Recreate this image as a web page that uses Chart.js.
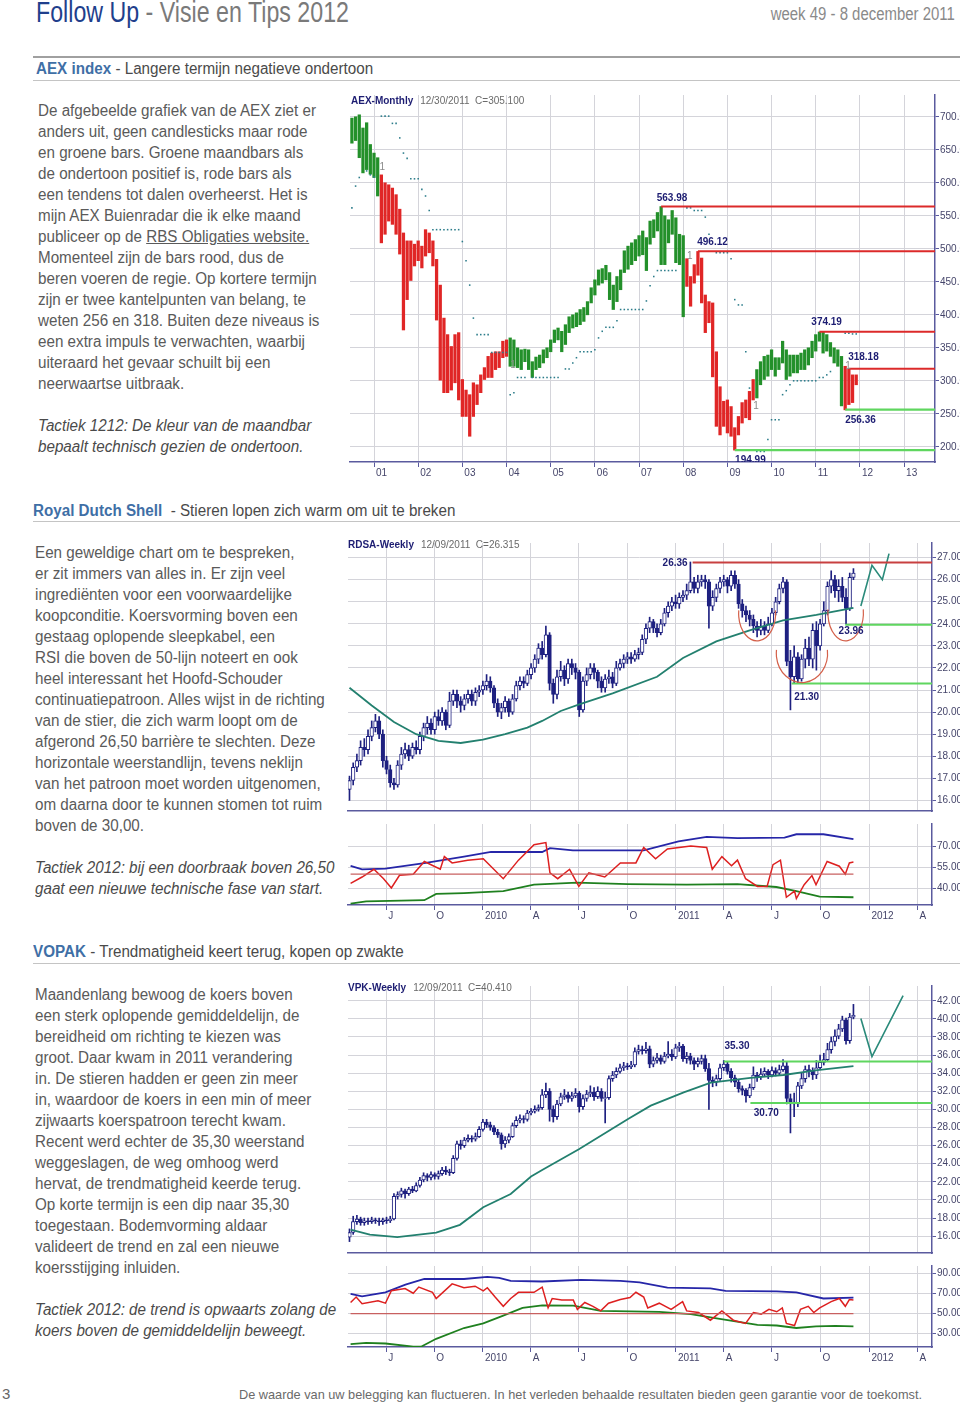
<!DOCTYPE html>
<html>
<head>
<meta charset="utf-8">
<script src="https://cdn.jsdelivr.net/npm/chart.js@4.4.0/dist/chart.umd.min.js"></script>
<style>
  body { margin: 0; width: 960px; height: 1404px; position: relative; background: #fff; overflow: hidden;
         font-family: "Liberation Sans", Arial, sans-serif; color: #5a5a5a; }
  .abs { position: absolute; white-space: nowrap; transform-origin: 0 0; }
  .sx { transform: scaleX(0.95); }
  .txt { font-size: 16px; line-height: 21px; }
  .tac { font-size: 16px; line-height: 21px; font-style: italic; color: #4a4a4a; }
  .kop { font-size: 16px; color: #4a4a4a; }
  .kop b { color: #3f6fa6; }
  .rule { position: absolute; left: 33px; width: 927px; height: 1px; background: #c4c4c4; }
  .ct { font-family: "Liberation Sans", Arial, sans-serif; font-size: 10px; color: #6a6a6a; }
  .ct b { color: #1d1d72; margin-right: 7px; }
  canvas { position: absolute; }
</style>
</head>
<body>

<div class="abs" style="left:36px;top:-4px;font-size:29px;color:#7a7a7a;transform:scaleX(0.8)"><span style="color:#1f3f8c">Follow Up</span> - Visie en Tips 2012</div>
<div class="abs" style="right:5px;top:4px;font-size:18px;color:#8a8a8a;transform-origin:100% 0;transform:scaleX(0.83)">week 49 - 8 december 2011</div>

<div class="rule" style="top:56px;height:2px;background:#a0a0a0"></div>
<div class="abs kop sx" style="left:36px;top:60px"><b>AEX index</b> - Langere termijn negatieve ondertoon</div>
<div class="rule" style="top:80px"></div>

<div class="abs txt sx" style="left:38px;top:100px">
De afgebeelde grafiek van de AEX ziet er<br>
anders uit, geen candlesticks maar rode<br>
en groene bars. Groene maandbars als<br>
de ondertoon positief is, rode bars als<br>
een tendens tot dalen overheerst. Het is<br>
mijn AEX Buienradar die ik elke maand<br>
publiceer op de <u>RBS Obligaties website.</u><br>
Momenteel zijn de bars rood, dus de<br>
beren voeren de regie. Op kortere termijn<br>
zijn er twee kantelpunten van belang, te<br>
weten 256 en 318. Buiten deze niveaus is<br>
een extra impuls te verwachten, waarbij<br>
uiteraard het gevaar schuilt bij een<br>
neerwaartse uitbraak.
</div>
<div class="abs tac sx" style="left:38px;top:415px">Tactiek 1212: De kleur van de maandbar<br>bepaalt technisch gezien de ondertoon.</div>

<div class="abs kop sx" style="left:33px;top:502px"><b>Royal Dutch Shell</b>&nbsp; - Stieren lopen zich warm om uit te breken</div>
<div class="rule" style="top:521px"></div>

<div class="abs txt sx" style="left:35px;top:542px">
Een geweldige chart om te bespreken,<br>
er zit immers van alles in. Er zijn veel<br>
ingrediënten voor een voorwaardelijke<br>
koopconditie. Koersvorming boven een<br>
gestaag oplopende sleepkabel, een<br>
RSI die boven de 50-lijn noteert en ook<br>
heel interessant het Hoofd-Schouder<br>
continuatiepatroon. Alles wijst in de richting<br>
van de stier, die zich warm loopt om de<br>
afgerond 26,50 barrière te slechten. Deze<br>
horizontale weerstandlijn, tevens neklijn<br>
van het patroon moet worden uitgenomen,<br>
om daarna door te kunnen stomen tot ruim<br>
boven de 30,00.
</div>
<div class="abs tac sx" style="left:35px;top:857px">Tactiek 2012: bij een doorbraak boven 26,50<br>gaat een nieuwe technische fase van start.</div>

<div class="abs kop sx" style="left:33px;top:943px"><b>VOPAK</b> - Trendmatigheid keert terug, kopen op zwakte</div>
<div class="rule" style="top:963px"></div>

<div class="abs txt sx" style="left:35px;top:984px">
Maandenlang bewoog de koers boven<br>
een sterk oplopende gemiddeldelijn, de<br>
bereidheid om richting te kiezen was<br>
groot. Daar kwam in 2011 verandering<br>
in. De stieren hadden er geen zin meer<br>
in, waardoor de koers in een min of meer<br>
zijwaarts koerspatroon terecht kwam.<br>
Recent werd echter de 35,30 weerstand<br>
weggeslagen, de weg omhoog werd<br>
hervat, de trendmatigheid keerde terug.<br>
Op korte termijn is een dip naar 35,30<br>
toegestaan. Bodemvorming aldaar<br>
valideert de trend en zal een nieuwe<br>
koersstijging inluiden.
</div>
<div class="abs tac sx" style="left:35px;top:1299px">Tactiek 2012: de trend is opwaarts zolang de<br>koers boven de gemiddeldelijn beweegt.</div>

<div class="abs" style="left:2px;top:1385px;font-size:15px;color:#666">3</div>
<div class="abs" style="left:239px;top:1387px;font-size:13.5px;color:#6a6a6a;transform:scaleX(0.944)">De waarde van uw belegging kan fluctueren. In het verleden behaalde resultaten bieden geen garantie voor de toekomst.</div>

<canvas id="aex" width="615" height="390" style="left:345px;top:88px"></canvas>
<canvas id="shell" width="615" height="282" style="left:345px;top:536px"></canvas>
<canvas id="shellInd" width="615" height="103" style="left:345px;top:817px"></canvas>
<canvas id="vopak" width="615" height="281" style="left:345px;top:979px"></canvas>
<canvas id="vopakInd" width="615" height="103" style="left:345px;top:1259px"></canvas>

<div class="abs ct" style="left:351px;top:95px"><b>AEX-Monthly</b>12/30/2011&nbsp; C=305.100</div>
<div class="abs ct" style="left:348px;top:539px"><b>RDSA-Weekly</b>12/09/2011&nbsp; C=26.315</div>
<div class="abs ct" style="left:348px;top:982px"><b>VPK-Weekly</b>12/09/2011&nbsp; C=40.410</div>

<script>
// ---------- AEX maandbars (maand 0 = jan 2001, eerste bar = jul 2000) ----------
const aexFirstMonth = -6;
const aexHigh = [
  698, 700, 703, 683, 691, 658, 645, 638, 612, 600,
  597, 592, 582, 560, 524, 512, 512, 507, 512, 504,
  529, 524, 512, 484, 445, 395, 370, 352, 370, 373,
  302, 286, 279, 297, 294, 309, 320, 337, 342, 344,
  344, 360, 362, 365, 362, 350, 347, 348, 347, 329,
  336, 339, 347, 350, 362, 377, 380, 375, 385, 397,
  400, 403, 408, 411, 420, 441, 453, 468, 470, 475,
  464, 445, 458, 468, 497, 504, 509, 514, 520, 527,
  517, 542, 544, 555, 564, 550, 544, 558, 547, 522,
  520, 485, 458, 476, 496, 486, 430, 420, 418, 344,
  291, 269, 271, 261, 229, 246, 267, 271, 284, 302,
  317, 329, 337, 339, 347, 335, 335, 360, 347, 339,
  339, 339, 342, 347, 350, 360, 370, 374, 375, 370,
  358, 350, 347, 337, 322, 318, 309, 309
];
const aexLow = [
  660, 664, 638, 615, 620, 613, 608, 580, 509, 522,
  542, 537, 522, 492, 377, 423, 452, 474, 482, 471,
  489, 494, 474, 392, 301, 282, 282, 286, 297, 271,
  246, 246, 216, 246, 264, 282, 302, 305, 305, 317,
  320, 335, 337, 322, 322, 320, 317, 329, 317, 305,
  317, 320, 327, 335, 344, 358, 362, 344, 355, 373,
  380, 382, 385, 390, 400, 418, 430, 445, 448, 453,
  423, 408, 420, 438, 464, 469, 476, 482, 489, 491,
  467, 507, 517, 527, 476, 476, 509, 522, 479, 476,
  397, 443, 413, 448, 460, 418, 373, 388, 306, 231,
  218, 231, 221, 216, 195, 218, 236, 244, 241, 271,
  274, 294, 302, 307, 317, 307, 317, 327, 302, 307,
  312, 312, 317, 317, 324, 335, 345, 360, 342, 345,
  337, 327, 322, 262, 256, 264, 267, 294
];
// g = groene maandbar, r = rode maandbar
const aexTrend = ('ggggggggrr' + 'rrrrrrrrrr' + 'rrrrrrrrrr' + 'rrrrrrrrrr' + 'rrrggggggg' +
  'gggggggggg' + 'gggggggggg' + 'gggggggggg' + 'gggggggggg' + 'grrrrrrrrr' +
  'rrrrrrrrrr' + 'gggggggggg' + 'gggggggggg' + 'ggggrrrr').split('');
// stop-stippen [maand, niveau]
const aexStops = [
  [-6,562],[-5,595],[-4,608],[-2,618],[-1,612],[0,609],
  [2,701],[3,701],[4,701],[5,690],[6,690],[7,668],[8,645],[9,637],[10,606],[11,606],[12,606],
  [13,590],[14,580],[15,558],[16,529],[17,529],[18,529],[19,529],[20,529],[21,529],[22,529],[23,529],
  [24,511],[25,482],[26,445],[27,395],[28,370],[29,370],[30,370],[31,370],
  [32,343],[33,343],[34,343],[35,343],[36,343],
  [37,279],[38,282],[39,305],[40,305],[41,305],[43,305],[44,305],[45,305],[46,305],[47,305],[48,305],
  [49,305],[50,305],[52,318],[53,318],[54,327],[55,335],[56,344],[57,344],[58,344],[59,344],[60,347],
  [61,365],[62,375],[63,381],[64,381],[65,381],[66,391],[67,408],[68,408],[69,408],[70,408],[71,408],
  [72,408],[73,408],[74,421],[75,444],[76,458],[77,467],[78,467],[79,467],[80,467],[81,467],[82,467],
  [85,562],[86,562],[87,558],[88,558],[89,558],[90,548],[91,522],[93,494],[94,494],[95,494],[96,494],
  [97,485],[98,423],[99,415],[100,415],[101,344],[102,289],
  [104,193],[105,193],[106,193],[107,211],[108,241],[109,241],[110,241],[111,279],[112,285],[113,294],
  [114,300],[115,300],[116,300],[117,300],[118,300],[119,300],[120,300],[121,305],[122,305],[123,309],
  [124,314],[128,372],[129,372],[130,371],[131,371]
];
const aexRedLevels = [563.98, 496.12, 374.19, 318.18];
const aexRedFrom = [78, 88, 121, 129];
const aexGreenLevels = [256.36, 194.99];
const aexGreenFrom = [128, 98];
const aexTurns = [[1.5, 623], [37, 324], [85, 488], [103, 262], [128, 322]];
const aexYearTicks = [0, 12, 24, 36, 48, 60, 72, 84, 96, 108, 120, 132, 144];
const aexYearLabels = ['01','02','03','04','05','06','07','08','09','10','11','12','13'];
const aexPriceTicks = [200, 250, 300, 350, 400, 450, 500, 550, 600, 650, 700];

// ---------- weekdata (week 0 = 1 jan 2010, eerste candle = week -36) ----------
const weekStart = -36;
const quarterWeeks = [-26.1, -13.1, 0, 12.9, 25.9, 39.0, 52.1, 65.0, 78.0, 91.1, 104.3, 117.3];
const quarterLabels = ['J', 'O', '2010', 'A', 'J', 'O', '2011', 'A', 'J', 'O', '2012', 'A'];

const shellOpen = [
  16.5,16.9,17.5,17.8,18.4,18.3,18.9,19.3,19.6,19.0,
  17.8,17.4,16.8,16.7,17.6,18.1,18.3,18.0,18.4,18.3,
  18.9,19.3,19.5,19.2,19.8,19.6,20.0,19.4,20.5,20.8,
  20.5,20.3,20.6,20.8,20.5,20.9,21.0,21.2,21.4,21.1,
  20.4,20.0,20.2,20.5,20.0,20.6,21.2,21.4,21.3,21.7,
  22.0,22.4,22.9,22.6,23.5,21.3,20.8,21.6,21.9,21.5,
  22.2,22.0,21.8,20.1,21.4,21.7,22.0,21.8,21.4,21.1,
  21.5,21.6,21.3,22.0,22.2,22.4,22.5,22.4,22.6,22.7,
  23.3,23.8,24.1,23.8,23.6,24.0,24.5,24.8,25.0,24.9,
  25.2,25.3,25.5,25.9,25.6,25.9,26.0,25.9,24.8,25.2,
  25.6,25.9,26.0,25.7,26.2,25.8,24.9,24.6,24.4,24.2,
  23.9,23.7,23.9,23.7,24.0,24.5,25.0,25.6,25.9,22.3,
  21.6,22.5,21.5,22.4,22.9,22.4,23.7,23.0,24.0,24.6,
  25.7,26.0,25.5,25.7,25.2,24.7,26.1
];
const shellHigh = [
  17.1,17.7,18.1,18.7,18.8,19.2,19.6,19.9,19.8,19.2,
  18.0,17.6,17.0,17.8,18.4,18.6,18.5,18.6,18.7,19.1,
  19.5,19.8,19.7,20.0,20.1,20.2,20.1,20.9,21.0,21.0,
  20.7,20.8,21.0,21.0,21.1,21.2,21.4,21.7,21.6,21.2,
  20.6,20.4,20.7,20.6,20.8,21.4,21.6,21.6,21.9,22.2,
  22.6,23.1,23.2,23.9,23.6,21.5,21.9,22.3,22.1,22.4,
  22.4,22.2,21.9,21.6,22.0,22.2,22.2,21.9,21.6,21.7,
  21.9,21.8,22.3,22.4,22.6,22.7,22.7,22.8,22.9,23.5,
  24.0,24.3,24.2,24.0,24.2,24.7,25.0,25.2,25.3,25.4,
  25.5,25.8,26.8,26.1,26.2,26.2,26.2,26.0,25.5,25.8,
  26.1,26.2,26.1,26.4,26.4,26.0,25.1,24.8,24.6,24.4,
  24.1,24.2,24.1,24.3,24.7,25.2,25.8,26.1,26.0,22.8,
  23.0,22.7,22.6,23.3,23.4,24.0,24.1,24.2,25.0,25.9,
  26.4,26.2,26.0,26.1,25.6,26.3,26.5
];
const shellLow = [
  16.0,16.7,17.3,17.6,18.0,18.1,18.7,19.1,18.8,17.5,
  17.2,16.6,16.5,16.6,17.4,17.9,17.8,17.9,18.1,18.1,
  18.7,19.0,19.0,19.0,19.4,19.4,19.2,19.3,20.3,20.2,
  20.0,20.1,20.4,20.3,20.3,20.7,20.8,21.0,20.9,20.2,
  19.8,19.7,20.0,19.8,19.9,20.5,21.0,21.1,21.2,21.5,
  21.8,22.2,22.4,22.5,21.0,20.4,20.6,21.4,21.2,21.3,
  21.7,21.5,19.8,20.0,21.2,21.5,21.5,21.1,20.9,20.9,
  21.3,21.1,21.2,21.9,22.0,22.2,22.2,22.3,22.4,22.6,
  23.1,23.6,23.6,23.4,23.5,23.9,24.3,24.6,24.7,24.7,
  25.0,25.1,25.4,25.4,25.4,25.7,25.6,23.8,24.6,25.0,
  25.4,25.7,25.4,25.5,25.6,24.7,24.3,24.1,23.9,23.6,
  23.4,23.5,23.5,23.6,23.9,24.4,24.9,25.4,22.1,20.1,
  21.3,21.3,21.4,22.0,22.1,22.0,21.9,22.8,23.9,24.4,
  25.4,25.2,25.0,25.0,24.0,24.6,26.0
];
const shellClose = [
  16.9,17.5,17.8,18.4,18.3,18.9,19.3,19.6,19.0,17.8,
  17.4,16.8,16.7,17.6,18.1,18.3,18.0,18.4,18.3,18.9,
  19.3,19.5,19.2,19.8,19.6,20.0,19.4,20.5,20.8,20.5,
  20.3,20.6,20.8,20.5,20.9,21.0,21.2,21.4,21.1,20.4,
  20.0,20.2,20.5,20.0,20.6,21.2,21.4,21.3,21.7,22.0,
  22.4,22.9,22.6,23.5,21.3,20.8,21.6,21.9,21.5,22.2,
  22.0,21.8,20.1,21.4,21.7,22.0,21.8,21.4,21.1,21.5,
  21.6,21.3,22.0,22.2,22.4,22.5,22.4,22.6,22.7,23.3,
  23.8,24.1,23.8,23.6,24.0,24.5,24.8,25.0,24.9,25.2,
  25.3,25.5,25.9,25.6,25.9,26.0,25.9,24.8,25.2,25.6,
  25.9,26.0,25.7,26.2,25.8,24.9,24.6,24.4,24.2,23.9,
  23.7,23.9,23.7,24.0,24.5,25.0,25.6,25.9,22.3,21.6,
  22.5,21.5,22.4,22.9,22.4,23.7,23.0,24.0,24.6,25.7,
  26.0,25.5,25.7,25.2,24.7,26.1,26.3
];
// gemiddelde (sleepkabel) [week, koers]
const shellAvg = [[-36,21.1],[-30,20.3],[-24,19.55],[-18,19.0],[-12,18.7],[-6,18.6],[0,18.75],[6,19.0],
  [12,19.3],[16,19.6],[21,20.05],[26,20.35],[35,20.85],[47,21.6],[54,22.45],[63,23.2],[72,23.7],
  [81,24.15],[90,24.4],[100,24.72]];
const shellProjection = [[102.0,24.81],[105.0,26.65],[107.8,26.0],[109.6,27.18]];
const shellNeck = 26.36;         // label
const shellNeckDrawn = 26.78;    // hoogte van de getekende lijn
const shellSupports = [23.96, 21.30];
const shellSupportFrom = [97.8, 83.3];
const shellPriceTicks = [16, 17, 18, 19, 20, 21, 22, 23, 24, 25, 26, 27];

const shellRsi = [[-35.7,43.5],[-32.6,48],[-29.4,53.5],[-26.8,46.8],[-24.7,40.2],[-22.5,49.2],[-18.8,50],
  [-15.8,59],[-11.5,53.5],[-10.4,62.5],[-8.3,58],[-4.1,60],[0.1,61],[5.5,46.8],[9.6,60],[13.8,71],
  [17,72.5],[18.1,51],[20.2,46.8],[23.4,53.5],[25.9,41.3],[28.6,51],[32.9,48],[37.1,58],[41.3,58],
  [43.4,69],[46.6,61],[49.8,68],[56.1,70],[60.4,69],[61.9,53.5],[64.5,62.5],[67.1,56],[68.7,60],
  [70.9,46.8],[74.1,41.3],[76.7,41.3],[78.3,56.8],[80.3,60],[81.9,33.6],[84.1,38],[84.6,32.7],
  [86.7,42.5],[88.8,49],[89.9,42.5],[92.9,59],[96.2,55.7],[97.8,50],[98.9,58],[100,58.6]];
const shellUpper = [[-35.7,56],[-32.6,53.5],[-26.3,54],[-15.8,57.9],[-5.1,62.5],[2.2,65.8],[16,65.8],
  [18.1,68.5],[24.3,67],[43.4,67],[52.8,73.3],[60.4,76.6],[68.7,75.7],[81.4,76],[84.6,78.4],[91.9,78.4],[100,75]];
const shellLower = [[-35.7,29],[-31.5,30.7],[-15.8,31.5],[-12.6,36],[-5.1,36.6],[5.5,38],[13.8,42.6],
  [25.4,44],[39.1,43],[55,42.6],[68.7,42.9],[79.2,40.9],[84.6,38],[90.9,34],[100,33.6]];
const shellIndTicks = [40, 55, 70];

const vopakOpen = [
  15.9,16.4,17.6,17.9,17.5,17.7,17.6,17.8,17.7,17.6,
  17.8,17.7,17.9,20.4,20.6,21.0,20.7,21.2,21.0,21.6,
  22.2,22.7,22.5,22.8,22.6,22.9,23.3,23.1,23.0,24.6,
  26.2,26.0,26.6,26.8,26.7,27.0,27.8,28.6,28.3,28.0,
  27.5,27.2,26.2,26.6,27.0,28.2,28.8,29.0,28.9,29.6,
  29.8,30.0,30.2,31.6,32.0,30.0,29.2,30.6,31.4,31.6,
  31.2,31.5,31.8,30.3,31.2,31.7,31.9,31.4,32.0,31.2,
  31.3,33.4,33.8,34.2,34.6,34.8,34.7,34.9,36.4,36.6,
  36.5,36.7,35.0,35.4,35.7,35.3,35.9,36.1,35.8,36.8,
  37.0,35.6,35.9,35.4,35.0,35.3,35.6,34.5,33.2,33.0,
  33.4,34.6,35.0,34.2,33.5,33.0,32.3,32.1,31.5,32.4,
  33.8,33.6,33.9,34.2,33.8,34.3,34.0,34.4,34.8,31.2,
  30.8,30.6,32.6,33.4,34.4,34.2,33.8,34.6,35.2,35.5,
  36.6,37.5,38.1,38.9,39.9,37.6,40.2
];
const vopakHigh = [
  16.8,18.2,18.3,18.1,18.0,18.0,18.1,18.0,18.0,18.0,
  18.1,18.2,20.7,20.9,21.3,21.2,21.4,21.5,21.9,22.5,
  23.0,22.9,23.1,23.0,23.2,23.6,23.7,23.4,24.9,26.5,
  26.6,26.9,27.2,27.1,27.4,28.1,28.9,28.9,28.6,28.2,
  27.8,27.4,27.0,27.3,28.5,29.2,29.4,29.3,29.9,30.1,
  30.4,30.5,32.2,32.9,32.3,30.4,31.0,31.8,32.2,31.9,
  31.9,32.3,32.0,31.6,32.1,32.6,32.4,32.5,32.3,31.9,
  33.7,34.2,34.6,35.0,35.2,35.1,35.3,36.8,37.1,37.0,
  37.4,37.0,35.8,36.2,36.0,36.3,37.5,36.6,37.2,37.4,
  37.2,36.3,36.2,35.7,35.7,36.0,36.0,35.1,33.6,33.8,
  35.0,35.4,35.2,34.5,33.8,33.3,32.6,32.3,32.8,34.7,
  34.1,34.5,34.6,34.4,34.7,34.6,34.9,35.5,35.2,31.7,
  31.8,33.0,34.0,34.8,34.9,34.6,35.4,36.0,36.2,37.3,
  38.0,38.8,39.4,40.3,40.1,40.6,41.6
];
const vopakLow = [
  15.4,16.2,17.3,17.2,17.2,17.3,17.4,17.4,17.2,17.3,
  17.4,17.5,17.8,20.1,20.3,20.2,20.5,20.8,20.9,21.4,
  22.0,22.1,22.2,22.3,22.3,22.7,22.8,22.7,22.9,24.4,
  25.6,25.8,26.4,26.4,26.5,26.9,27.6,28.0,27.7,27.2,
  26.9,25.6,25.8,26.3,26.9,28.0,28.5,28.5,28.7,29.4,
  29.6,29.8,30.0,31.3,28.7,28.6,28.9,30.4,31.1,30.8,
  30.9,31.3,29.7,30.0,30.9,31.4,31.0,31.2,30.9,28.5,
  31.1,33.1,33.5,34.0,34.3,34.4,34.5,34.7,36.1,36.1,
  36.2,34.6,34.7,35.1,35.0,35.1,35.7,35.4,35.6,36.4,
  35.3,35.1,35.0,34.4,34.7,35.0,34.2,30.0,32.5,32.6,
  33.2,34.3,33.9,33.0,32.5,31.9,31.6,30.8,31.3,32.2,
  33.1,33.3,33.7,33.4,33.6,33.7,33.8,34.2,30.6,27.4,
  29.2,30.3,32.3,33.0,33.6,33.3,33.4,34.4,34.9,35.3,
  36.2,37.0,37.8,38.6,37.2,37.3,40.0
];
const vopakClose = [
  16.4,17.6,17.9,17.5,17.7,17.6,17.8,17.7,17.6,17.8,
  17.7,17.9,20.4,20.6,21.0,20.7,21.2,21.0,21.6,22.2,
  22.7,22.5,22.8,22.6,22.9,23.3,23.1,23.0,24.6,26.2,
  26.0,26.6,26.8,26.7,27.0,27.8,28.6,28.3,28.0,27.5,
  27.2,26.2,26.6,27.0,28.2,28.8,29.0,28.9,29.6,29.8,
  30.0,30.2,31.6,32.0,30.0,29.2,30.6,31.4,31.6,31.2,
  31.5,31.8,30.3,31.2,31.7,31.9,31.4,32.0,31.2,31.3,
  33.4,33.8,34.2,34.6,34.8,34.7,34.9,36.4,36.6,36.5,
  36.7,35.0,35.4,35.7,35.3,35.9,36.1,35.8,36.8,37.0,
  35.6,35.9,35.4,35.0,35.3,35.6,34.5,33.2,33.0,33.4,
  34.6,35.0,34.2,33.5,33.0,32.3,32.1,31.5,32.4,33.8,
  33.6,33.9,34.2,33.8,34.3,34.0,34.4,34.8,31.2,30.8,
  30.6,32.6,33.4,34.4,34.2,33.8,34.6,35.2,35.5,36.6,
  37.5,38.1,38.9,39.9,37.6,40.2,40.4
];
const vopakAvg = [[-35.7,16.71],[-30.5,16.18],[-23.1,15.89],[-12.6,16.39],[-6.2,17.25],[0.1,19.2],
  [7.5,20.66],[13,22.59],[16,23.3],[25.9,25.6],[39.4,29.0],[45.3,30.42],[54.2,31.88],[61.5,32.95],
  [72.2,33.48],[81.1,33.8],[90.3,34.34],[100,34.77]];
const vopakProjection = [[102.0,40.03],[105.0,35.84],[113.4,42.57]];
const vopakLevels = [35.30, 30.70];
const vopakLevelFrom = [65.0, 72.2];
const vopakPriceTicks = [16, 18, 20, 22, 24, 26, 28, 30, 32, 34, 36, 38, 40, 42];

const vopakRsi = [[-35.7,61.2],[-34.2,66.7],[-32.6,60],[-28.3,63],[-26.3,60.5],[-24.7,72.9],[-21,75.1],
  [-18.8,70.5],[-17.3,76.6],[-13.6,71.4],[-12.6,65.2],[-8.3,79.8],[-5.1,76],[-2.1,77.5],[0.1,72.9],
  [1.2,76],[3.3,66.7],[5.5,57.4],[7.5,65.2],[9.6,71.4],[13.8,71.4],[16,76.6],[17.6,55.8],[18.7,65.2],
  [21.3,63.6],[24.4,63.6],[25.5,54.3],[27.5,61.2],[29.7,57.4],[31.8,52.8],[33.9,60.5],[37.1,64.2],
  [39.7,66.1],[41.3,71.4],[43.4,66.7],[44.5,55.8],[47.6,60.5],[50.8,54.3],[53.9,62.1],[55,52.8],
  [58.2,51.2],[61.4,43.5],[64.5,52.8],[67.6,43.5],[70.9,40.3],[73,51.2],[75.1,49.6],[77.2,54.3],
  [79.3,51.9],[80.8,55.8],[81.9,40.3],[84.1,38.2],[85.7,54.3],[87.8,57.4],[89.3,51.2],[90.9,55.8],
  [94,62.1],[96.2,65.2],[97.8,57.4],[98.9,64.2],[100,63.6]];
const vopakUpper = [[-35.7,69.8],[-32.6,67.3],[-26.3,71.4],[-20.9,79.1],[-15.8,84.7],[-5.1,84.7],
  [1.2,86.9],[4.4,85.9],[7.5,82.8],[16,82.2],[26.5,83.8],[37.1,82.8],[42.3,81.3],[49.8,76],[61.4,75.4],
  [65.5,72.9],[79.3,72.3],[84.6,71.4],[91.9,65.2],[100,66.1]];
const vopakLower = [[-35.7,19.6],[-31.5,20.8],[-26.3,20.2],[-18.8,17.1],[-16.7,17],[-12.6,24.9],
  [-5.1,35.7],[0.1,40.3],[5.5,48.1],[10.7,55.8],[16,58.4],[24.4,58],[31.8,52.8],[47.6,51.9],[56.1,49.6],
  [63.5,45],[74.1,38.8],[79.3,38.2],[84.6,35.7],[89.9,37.3],[95.1,37.9],[100,37.3]];
const vopakIndTicks = [30, 50, 70, 90];
const rsiMid = 50;

// ---------- stijl ----------
const navy = '#5a5a9e';
const candleNavy = '#1e2080';
const gridGrey = '#d4d4da';
const red = '#dc2a2a';
const teal = '#23806f';
const tickFont = { family: 'Liberation Sans, Arial, sans-serif', size: 10 };
Chart.defaults.font.family = 'Liberation Sans, Arial, sans-serif';

// teksten en bogen op grafiekcoordinaten
const notes = {
  id: 'notes',
  afterDatasetsDraw(chart, args, opts) {
    const { ctx, chartArea: a, scales: { x, y } } = chart;
    ctx.save();
    ctx.beginPath();
    ctx.rect(a.left, a.top, a.right - a.left, a.bottom - a.top);
    ctx.clip();
    (opts.arcs || []).forEach(c => {
      const cx = x.getPixelForValue(c.x), cy = y.getPixelForValue(c.y);
      const rx = Math.abs(x.getPixelForValue(c.x + c.rx) - cx);
      const ry = Math.abs(y.getPixelForValue(c.y - c.ry) - cy);
      ctx.beginPath();
      ctx.ellipse(cx, cy, rx, ry, 0, -0.12, Math.PI + 0.12);
      ctx.strokeStyle = '#d4604a';
      ctx.lineWidth = 1.2;
      ctx.stroke();
    });
    (opts.texts || []).forEach(t => {
      ctx.font = t.font || 'bold 10px Liberation Sans, Arial, sans-serif';
      ctx.fillStyle = t.color || '#1d1d72';
      ctx.textAlign = 'left';
      ctx.textBaseline = 'middle';
      ctx.fillText(t.text, x.getPixelForValue(t.x), y.getPixelForValue(t.y));
    });
    ctx.restore();
  }
};

function yScale(min, max, ticks, width) {
  return {
    type: 'linear', position: 'right', min: min, max: max,
    afterFit: s => { s.width = width; },
    afterBuildTicks: s => { s.ticks = ticks.map(v => ({ value: v })); },
    grid: { color: gridGrey, tickLength: 4, tickColor: navy },
    border: { color: navy, width: 1.5 },
    ticks: { font: tickFont, color: '#45456a', padding: 1, autoSkip: false, callback: v => v.toFixed(2) }
  };
}
function xScale(min, max, ticks, labels, height) {
  return {
    type: 'linear', position: 'bottom', min: min, max: max, offset: false,
    afterFit: s => { s.height = height; },
    afterBuildTicks: s => { s.ticks = ticks.map(v => ({ value: v })); },
    grid: { color: gridGrey, offset: false, drawTicks: !!labels, tickLength: 5, tickColor: navy },
    border: { color: navy, width: 1.5 },
    ticks: {
      display: !!labels, font: tickFont, color: '#45456a', padding: 0, align: 'start', labelOffset: 2,
      autoSkip: false, maxRotation: 0, callback: (v, i) => labels ? labels[i] : ''
    }
  };
}
function baseOptions(padding, x, y, noteOpts) {
  return {
    responsive: false, animation: false, events: [], devicePixelRatio: 1,
    layout: { padding: padding },
    plugins: { legend: { display: false }, tooltip: { enabled: false }, notes: noteOpts || {} },
    scales: { x: x, y: y }
  };
}
function levelLine(v, from, to, color, width) {
  return { type: 'line', data: [{ x: from, y: v }, { x: to, y: v }], borderColor: color, borderWidth: width,
           pointRadius: 0, order: 0 };
}
function pathLine(pairs, color, width, order) {
  return { type: 'line', data: pairs.map(p => ({ x: p[0], y: p[1] })), borderColor: color, borderWidth: width,
           pointRadius: 0, tension: 0, order: order };
}
function candleSets(open, high, low, close) {
  return [
    { type: 'bar', data: high.map((h, i) => ({ x: weekStart + i, y: [low[i], h] })),
      backgroundColor: candleNavy, barThickness: 1, grouped: false, order: 3 },
    { type: 'bar', data: open.map((o, i) => ({ x: weekStart + i, y: [o, close[i]] })),
      backgroundColor: open.map((o, i) => close[i] >= o ? '#ffffff' : candleNavy),
      borderColor: candleNavy, borderWidth: 1, borderSkipped: false, barThickness: 3.6, grouped: false, order: 2 }
  ];
}

// ---------- AEX ----------
const aexEnd = 152.4;
new Chart(document.getElementById('aex'), {
  type: 'bar',
  data: {
    datasets: [
      { type: 'bar', data: aexHigh.map((h, i) => ({ x: aexFirstMonth + i, y: [aexLow[i], h] })),
        backgroundColor: aexTrend.map(t => t === 'g' ? '#23902a' : '#e02626'),
        barThickness: 2.6, grouped: false, order: 3 },
      { type: 'line', data: aexStops.map(p => ({ x: p[0], y: p[1] })), showLine: false, pointStyle: 'rect',
        pointRadius: 1.1, pointBackgroundColor: '#2b7c8a', pointBorderWidth: 0, order: 2 },
      ...aexRedLevels.map((v, i) => levelLine(v, aexRedFrom[i], aexEnd, red, 2)),
      ...aexGreenLevels.map((v, i) => levelLine(v, aexGreenFrom[i], aexEnd, '#5fd65f', 2.2))
    ]
  },
  options: baseOptions({ left: 5, top: 7, right: 0, bottom: 0 },
    xScale(-6.52, aexEnd, aexYearTicks, aexYearLabels, 16),
    yScale(177, 733, aexPriceTicks, 25),
    { texts: [
        { x: 76.8, y: 577, text: aexRedLevels[0].toFixed(2) },
        { x: 87.8, y: 510.6, text: aexRedLevels[1].toFixed(2) },
        { x: 118.8, y: 389, text: aexRedLevels[2].toFixed(2) },
        { x: 128.8, y: 335, text: aexRedLevels[3].toFixed(2) },
        { x: 128, y: 241, text: aexGreenLevels[0].toFixed(2) },
        { x: 98.1, y: 180, text: aexGreenLevels[1].toFixed(2) },
        ...aexTurns.map(p => ({ x: p[0], y: p[1], text: '1', color: '#8a8a8a', font: '10px Liberation Sans, Arial' }))
      ] }),
  plugins: [notes]
});

// ---------- Shell ----------
const weekEnd = 121.2;
new Chart(document.getElementById('shell'), {
  type: 'bar',
  data: {
    datasets: [
      ...candleSets(shellOpen, shellHigh, shellLow, shellClose),
      pathLine(shellAvg, teal, 1.8, 1),
      pathLine(shellProjection, '#2a8a7a', 1.6, 1),
      levelLine(shellNeckDrawn, 56.6, weekEnd, '#c84040', 2),
      ...shellSupports.map((v, i) => levelLine(v, shellSupportFrom[i], weekEnd, '#5fd65f', 2))
    ]
  },
  options: baseOptions({ left: 3, top: 4, right: 0, bottom: 0 },
    xScale(-36.4, weekEnd, quarterWeeks, null, 1),
    yScale(15.52, 27.66, shellPriceTicks, 28),
    { texts: [
        { x: 48.5, y: 26.74, text: shellNeck.toFixed(2) },
        { x: 96, y: 23.64, text: shellSupports[0].toFixed(2) },
        { x: 84, y: 20.67, text: shellSupports[1].toFixed(2) }
      ],
      arcs: [
        { x: 74.0, y: 24.46, rx: 4.98, ry: 1.23 },
        { x: 86.1, y: 22.66, rx: 6.92, ry: 1.32 },
        { x: 97.9, y: 24.50, rx: 4.79, ry: 1.27 }
      ] }),
  plugins: [notes]
});

new Chart(document.getElementById('shellInd'), {
  type: 'line',
  data: {
    datasets: [
      levelLine(rsiMid, -35.7, 100, '#c86060', 1.2),
      pathLine(shellUpper, '#2626a8', 1.8, 1),
      pathLine(shellLower, '#1f801f', 1.8, 1),
      pathLine(shellRsi, '#dd2020', 1.5, 0)
    ]
  },
  options: baseOptions({ left: 3, top: 1, right: 0, bottom: 0 },
    xScale(-36.4, weekEnd, quarterWeeks, quarterLabels, 15),
    yScale(28.1, 85.7, shellIndTicks, 28))
});

// ---------- Vopak ----------
new Chart(document.getElementById('vopak'), {
  type: 'bar',
  data: {
    datasets: [
      ...candleSets(vopakOpen, vopakHigh, vopakLow, vopakClose),
      pathLine(vopakAvg, teal, 1.8, 1),
      pathLine(vopakProjection, '#2a8a7a', 1.6, 1),
      ...vopakLevels.map((v, i) => levelLine(v, vopakLevelFrom[i], weekEnd, '#5fd65f', 2))
    ]
  },
  options: baseOptions({ left: 3, top: 4, right: 0, bottom: 0 },
    xScale(-36.4, weekEnd, quarterWeeks, null, 1),
    yScale(14.14, 43.63, vopakPriceTicks, 28),
    { texts: [
        { x: 65.2, y: 37.0, text: vopakLevels[0].toFixed(2) },
        { x: 73.1, y: 29.53, text: vopakLevels[1].toFixed(2) }
      ] }),
  plugins: [notes]
});

new Chart(document.getElementById('vopakInd'), {
  type: 'line',
  data: {
    datasets: [
      levelLine(rsiMid, -35.7, 100, '#c86060', 1.2),
      pathLine(vopakUpper, '#2626a8', 1.8, 1),
      pathLine(vopakLower, '#1f801f', 1.8, 1),
      pathLine(vopakRsi, '#dd2020', 1.5, 0)
    ]
  },
  options: baseOptions({ left: 3, top: 1, right: 0, bottom: 0 },
    xScale(-36.4, weekEnd, quarterWeeks, quarterLabels, 15),
    yScale(16.7, 97.7, vopakIndTicks, 28))
});
</script>
</body>
</html>
